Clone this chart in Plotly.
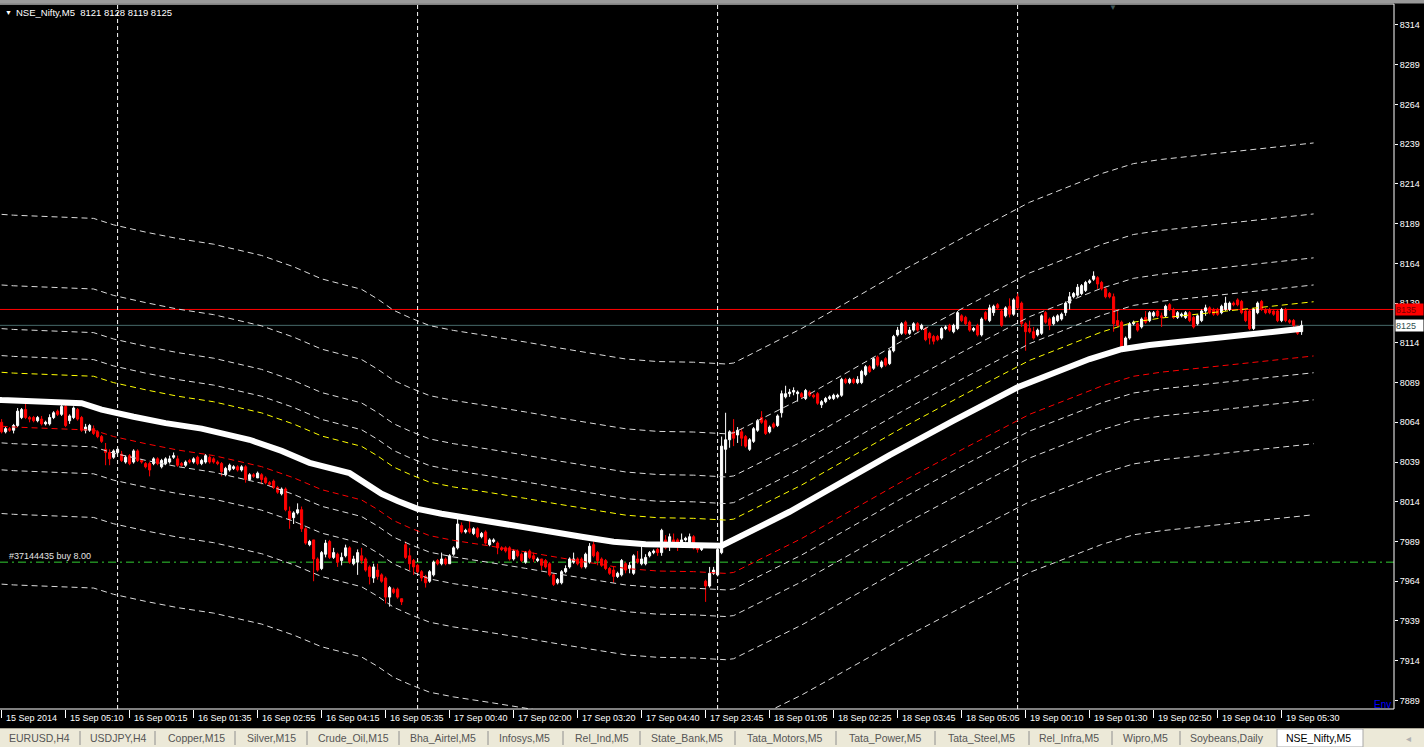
import plotly.graph_objects as go

# ---------------- data ----------------
bar_open = [
 8064,8058,8060,8059,8062,8067,8072,8067,8067,8065,8066,8063,8063,8067,8071,8069,8074,8065,8067,8072,
 8067,8059,8059,8060,8058,8055,8047,8045,8042,8045,8044,8039,8043,8039,8046,8040,8038,8038,8038,8041,
 8036,8038,8039,8042,8041,8038,8037,8040,8039,8042,8038,8039,8042,8041,8039,8038,8031,8034,8035,8036,
 8034,8036,8028,8031,8029,8031,8029,8026,8027,8023,8019,8022,8008,8004,8007,8009,7997,7987,7990,7978,
 7972,7981,7989,7979,7981,7977,7980,7985,7975,7976,7980,7978,7973,7966,7971,7968,7966,7954,7959,7959,
 7953,7987,7980,7977,7974,7970,7967,7964,7968,7977,7975,7978,7975,7981,7985,7999,7995,7997,7994,7997,
 7992,7995,7987,7989,7988,7985,7985,7985,7978,7983,7981,7976,7983,7980,7977,7978,7977,7975,7968,7963,
 7963,7970,7973,7976,7978,7978,7973,7976,7987,7982,7978,7977,7972,7971,7967,7968,7975,7972,7969,7978,
 7975,7975,7980,7982,7984,7982,7990,7987,7990,7990,7988,7990,7988,7992,7987,7984,7964,7961,7969,7968,
 7982,8047,8053,8058,8056,8058,8055,8047,8052,8059,8067,8065,8058,8063,8062,8070,8080,8082,8083,8082,
 8082,8079,8083,8081,8082,8075,8077,8079,8079,8080,8081,8091,8089,8091,8089,8089,8094,8099,8098,8105,
 8099,8104,8101,8109,8119,8120,8127,8120,8122,8126,8123,8123,8120,8118,8118,8117,8123,8125,8121,8123,
 8131,8130,8127,8122,8125,8119,8133,8128,8133,8138,8134,8131,8137,8132,8143,8139,8126,8123,8121,8119,
 8120,8133,8129,8126,8128,8129,8133,8139,8143,8144,8145,8147,8152,8154,8155,8152,8148,8145,8143,8128,
 8127,8111,8117,8126,8126,8124,8130,8128,8131,8134,8131,8131,8138,8135,8130,8131,8130,8133,8130,8126,
 8128,8134,8136,8135,8135,8133,8135,8135,8139,8141,8140,8134,8134,8123,8133,8140,8135,8135,8134,8134,
 8128,8135,8128,8128,8124,8121]
bar_high = [
 8066,8061,8061,8063,8073,8073,8077,8068,8068,8068,8068,8065,8069,8071,8072,8076,8076,8069,8074,8073,
 8068,8063,8063,8062,8059,8056,8051,8047,8047,8048,8046,8043,8044,8047,8047,8041,8039,8039,8042,8042,
 8041,8042,8043,8045,8043,8039,8040,8041,8042,8043,8041,8044,8043,8042,8040,8039,8036,8038,8037,8037,
 8037,8037,8032,8032,8033,8032,8030,8027,8028,8024,8023,8023,8011,8008,8013,8011,7998,7990,7990,7979,
 7983,7990,7990,7985,7982,7982,7987,7986,7980,7984,7985,7979,7974,7975,7975,7969,7967,7961,7960,7960,
 7953,7989,7985,7978,7975,7971,7968,7971,7977,7978,7982,7979,7981,7986,8005,8001,7997,8002,7998,7998,
 7995,7996,7991,7991,7989,7986,7986,7986,7984,7984,7982,7983,7984,7982,7979,7978,7978,7976,7969,7966,
 7971,7974,7979,7982,7979,7979,7982,7988,7989,7983,7979,7978,7973,7973,7970,7978,7976,7976,7981,7983,
 7986,7981,7983,7984,7985,7997,7993,7994,7994,7991,7994,7992,7994,7993,7988,7986,7965,7973,7973,7985,
 8055,8070,8059,8066,8061,8060,8056,8054,8061,8066,8071,8066,8062,8064,8069,8084,8087,8085,8086,8084,
 8083,8085,8084,8082,8083,8078,8080,8081,8082,8082,8092,8092,8092,8092,8093,8097,8100,8100,8105,8106,
 8103,8105,8110,8119,8124,8127,8128,8124,8127,8127,8126,8124,8121,8119,8119,8124,8125,8126,8126,8134,
 8132,8131,8128,8124,8126,8130,8134,8138,8138,8139,8135,8137,8142,8142,8145,8140,8127,8128,8124,8123,
 8132,8134,8130,8131,8132,8133,8140,8146,8146,8151,8151,8153,8154,8159,8156,8153,8149,8146,8145,8135,
 8128,8118,8127,8128,8127,8130,8134,8134,8134,8135,8133,8138,8139,8136,8134,8133,8134,8134,8131,8132,
 8135,8138,8137,8136,8136,8138,8143,8140,8140,8142,8141,8135,8135,8136,8140,8141,8136,8136,8135,8135,
 8136,8136,8129,8129,8125,8128]
bar_low = [
 8057,8057,8058,8057,8061,8066,8066,8064,8064,8064,8062,8062,8062,8066,8068,8068,8061,8063,8066,8065,
 8058,8057,8058,8056,8054,8051,8037,8037,8041,8044,8039,8038,8037,8038,8039,8038,8035,8030,8037,8037,
 8035,8037,8038,8041,8036,8036,8036,8038,8038,8037,8037,8038,8038,8038,8037,8030,8030,8033,8034,8033,
 8033,8026,8027,8029,8029,8025,8025,8024,8022,8019,8018,8008,7997,8000,8006,7995,7987,7986,7964,7970,
 7971,7979,7978,7978,7973,7974,7979,7975,7974,7968,7975,7970,7962,7963,7965,7963,7950,7948,7956,7953,
 7949,7978,7971,7968,7969,7964,7960,7963,7967,7974,7974,7974,7975,7980,7984,7994,7994,7994,7993,7991,
 7991,7987,7986,7988,7981,7983,7982,7977,7977,7979,7976,7975,7978,7976,7976,7971,7972,7967,7961,7962,
 7962,7969,7972,7975,7974,7972,7972,7975,7979,7974,7973,7971,7968,7963,7966,7967,7969,7969,7968,7975,
 7974,7974,7979,7981,7980,7980,7984,7983,7987,7983,7987,7989,7987,7984,7982,7983,7951,7960,7968,7967,
 7981,8032,8048,8049,8051,8049,8048,8046,8051,8058,8063,8056,8057,8060,8061,8067,8079,8080,8081,8077,
 8079,8078,8080,8079,8075,8073,8076,8078,8078,8079,8080,8088,8088,8088,8088,8088,8093,8095,8097,8099,
 8098,8099,8100,8108,8118,8119,8119,8119,8121,8121,8122,8115,8113,8113,8115,8116,8122,8121,8120,8122,
 8127,8125,8121,8121,8118,8118,8128,8127,8131,8135,8124,8130,8130,8131,8135,8124,8109,8120,8116,8118,
 8119,8126,8122,8125,8127,8128,8131,8135,8142,8143,8144,8146,8151,8153,8148,8147,8142,8142,8121,8124,
 8110,8110,8116,8125,8121,8123,8126,8127,8130,8130,8124,8130,8134,8129,8129,8130,8129,8127,8123,8125,
 8127,8131,8132,8131,8131,8132,8134,8134,8137,8137,8132,8127,8122,8122,8132,8134,8132,8132,8131,8127,
 8127,8127,8126,8124,8119,8119]
bar_close = [
 8058,8060,8059,8062,8071,8072,8067,8066,8065,8067,8063,8064,8067,8070,8069,8074,8062,8068,8073,8066,
 8059,8061,8062,8057,8055,8052,8045,8041,8046,8047,8040,8042,8038,8046,8040,8039,8036,8034,8041,8038,
 8040,8041,8041,8043,8037,8037,8039,8039,8041,8038,8040,8043,8039,8039,8038,8033,8035,8037,8036,8034,
 8036,8028,8031,8030,8032,8028,8026,8025,8023,8020,8022,8009,8003,8007,8009,7997,7988,7989,7978,7971,
 7982,7988,7979,7982,7976,7979,7985,7976,7978,7982,7977,7971,7967,7973,7967,7964,7954,7960,7957,7954,
 7951,7979,7975,7973,7970,7966,7963,7970,7976,7975,7978,7975,7980,7985,8000,7995,7996,7995,7997,7992,
 7994,7988,7990,7990,7985,7984,7983,7978,7983,7980,7977,7982,7979,7978,7978,7974,7973,7968,7962,7965,
 7970,7972,7978,7978,7975,7973,7981,7986,7980,7977,7974,7972,7969,7967,7969,7977,7971,7974,7980,7976,
 7978,7979,7982,7983,7982,7996,7985,7992,7988,7986,7990,7991,7992,7985,7984,7985,7961,7969,7971,7984,
 8049,8053,8058,8054,8059,8054,8049,8053,8060,8065,8064,8057,8061,8061,8068,8082,8082,8083,8084,8083,
 8080,8084,8081,8080,8076,8077,8079,8080,8081,8081,8091,8089,8091,8089,8091,8096,8099,8096,8104,8100,
 8102,8100,8109,8118,8122,8126,8120,8122,8126,8122,8125,8116,8117,8115,8116,8123,8124,8122,8125,8133,
 8128,8126,8122,8123,8119,8129,8129,8136,8137,8136,8125,8136,8132,8141,8136,8126,8121,8121,8117,8122,
 8131,8127,8125,8130,8131,8132,8139,8143,8145,8149,8150,8152,8153,8156,8151,8148,8143,8143,8126,8125,
 8111,8117,8126,8127,8122,8129,8127,8133,8133,8131,8130,8137,8135,8130,8133,8132,8133,8128,8124,8131,
 8134,8136,8133,8132,8132,8137,8139,8139,8138,8138,8133,8128,8123,8135,8139,8135,8133,8133,8132,8128,
 8135,8128,8127,8125,8120,8125]

time_labels = ["15 Sep 2014", "15 Sep 05:10", "16 Sep 00:15", "16 Sep 01:35", "16 Sep 02:55",
               "16 Sep 04:15", "16 Sep 05:35", "17 Sep 00:40", "17 Sep 02:00", "17 Sep 03:20",
               "17 Sep 04:40", "17 Sep 23:45", "18 Sep 01:05", "18 Sep 02:25", "18 Sep 03:45",
               "18 Sep 05:05", "19 Sep 00:10", "19 Sep 01:30", "19 Sep 02:50", "19 Sep 04:10",
               "19 Sep 05:30"]
label_every_bars = 16

ma_bar = [-3, 0, 20, 25, 33, 41, 50, 62, 70, 77, 87, 91, 95, 99, 104, 110, 119, 124, 128, 136,
          145, 153, 161, 170, 178, 180, 197, 222, 238, 254, 272, 280, 287, 300, 312, 325]
ma_value = [8078.5, 8078.0, 8076.0, 8072.0, 8067.5, 8063.5, 8060.0, 8053.0, 8046.0, 8038.5,
            8032.0, 8026.0, 8019.0, 8014.5, 8009.5, 8006.5, 8003.0, 8001.2, 7999.3, 7995.8,
            7992.0, 7988.8, 7987.2, 7986.8, 7985.7, 7986.3, 8007.7, 8043.4, 8065.0, 8086.0,
            8103.8, 8110.0, 8112.6, 8116.2, 8119.5, 8122.8]
env_deviation_pct = [0.21, 0.34, 0.55, 0.89, 1.44]
env_shift_bars = 3

ask_price = 8135
bid_price = 8125
order_price = 7976
order_text = "#37144435 buy 8.00"
symbol_title = "NSE_Nifty,M5"
last_ohlc = [8121, 8128, 8119, 8125]
period_separator_bars = [29, 104, 179, 254]
price_ticks = list(range(7889, 8315, 25))

tab_names = ["EURUSD,H4", "USDJPY,H4", "Copper,M15", "Silver,M15", "Crude_Oil,M15",
             "Bha_Airtel,M5", "Infosys,M5", "Rel_Ind,M5", "State_Bank,M5", "Tata_Motors,M5",
             "Tata_Power,M5", "Tata_Steel,M5", "Rel_Infra,M5", "Wipro,M5", "Soybeans,Daily",
             "NSE_Nifty,M5"]
active_tab = "NSE_Nifty,M5"

# ---------------- layout geometry (pixels) ----------------
W, H = 1424, 747
PLOT_R, PLOT_T, PLOT_B = 1394, 4, 709
tab_center_px = [39, 118, 196, 271.5, 353, 443, 524, 602, 687, 784.5, 885.5, 981.5,
                 1069, 1145.5, 1227, 1318.5]
tab_sep_px = [80, 155, 235, 307, 399, 488, 563, 640, 735, 836, 935, 1029, 1112, 1180]

def px_x(p):
    return p / PLOT_R

def px_y(p):
    return (PLOT_B - p) / (PLOT_B - PLOT_T)

FONT = "Liberation Sans, Arial, sans-serif"
BAND_COL = "#DCDCDC"

fig = go.Figure()

# envelope bands
for k, d in enumerate(env_deviation_pct):
    bx = [b + env_shift_bars for b in ma_bar]
    up = [v * (1 + d / 100.0) for v in ma_value]
    dn = [v * (1 - d / 100.0) for v in ma_value]
    cu = "#FFFF00" if k == 0 else BAND_COL
    cd = "#FF0000" if k == 0 else BAND_COL
    fig.add_trace(go.Scatter(x=bx, y=up, mode="lines",
                             line=dict(color=cu, width=1, dash="6px,4px"),
                             hoverinfo="skip", showlegend=False))
    fig.add_trace(go.Scatter(x=bx, y=dn, mode="lines",
                             line=dict(color=cd, width=1, dash="6px,4px"),
                             hoverinfo="skip", showlegend=False))

# moving average (thick white)
fig.add_trace(go.Scatter(x=ma_bar, y=ma_value, mode="lines",
                         line=dict(color="#FFFFFF", width=6),
                         hoverinfo="skip", showlegend=False))

# candles
n = len(bar_open)
fig.add_trace(go.Candlestick(
    x=list(range(n)), open=bar_open, high=bar_high, low=bar_low, close=bar_close,
    increasing=dict(line=dict(color="#FFFFFF", width=1), fillcolor="#FFFFFF"),
    decreasing=dict(line=dict(color="#FF0000", width=1), fillcolor="#FF0000"),
    whiskerwidth=0, hoverinfo="skip", showlegend=False))

shapes = []
# horizontal price lines
shapes.append(dict(type="line", xref="paper", x0=0, x1=1, yref="y", y0=bid_price, y1=bid_price,
                   line=dict(color="#466A6A", width=1), layer="below"))
shapes.append(dict(type="line", xref="paper", x0=0, x1=1, yref="y", y0=ask_price, y1=ask_price,
                   line=dict(color="#FF0000", width=1), layer="below"))
shapes.append(dict(type="line", xref="paper", x0=0, x1=1, yref="y", y0=order_price, y1=order_price,
                   line=dict(color="#32CD32", width=1, dash="8px,4px,2px,4px"), layer="below"))
# period separators
for b in period_separator_bars:
    shapes.append(dict(type="line", xref="x", x0=b, x1=b, yref="paper", y0=0, y1=1,
                       line=dict(color="#FFFFFF", width=1, dash="4px,3px"), layer="below"))
# frame
shapes.append(dict(type="line", xref="paper", x0=0, x1=1, yref="paper", y0=1, y1=1,
                   line=dict(color="#FFFFFF", width=1)))
shapes.append(dict(type="line", xref="paper", x0=1, x1=1, yref="paper", y0=0, y1=1,
                   line=dict(color="#FFFFFF", width=1)))
shapes.append(dict(type="line", xref="paper", x0=0, x1=1, yref="paper", y0=0, y1=0,
                   line=dict(color="#FFFFFF", width=1)))
# top window strip
shapes.append(dict(type="rect", xref="paper", x0=0, x1=px_x(W), yref="paper",
                   y0=px_y(3.4), y1=px_y(0), fillcolor="#9A9A9A", line=dict(width=0)))
# tab bar
shapes.append(dict(type="rect", xref="paper", x0=0, x1=px_x(W), yref="paper",
                   y0=px_y(H), y1=px_y(728), fillcolor="#ECE9D8", line=dict(width=0)))
shapes.append(dict(type="line", xref="paper", x0=0, x1=px_x(W), yref="paper",
                   y0=px_y(728.5), y1=px_y(728.5), line=dict(color="#ACA899", width=1)))
shapes.append(dict(type="rect", xref="paper", x0=px_x(1277), x1=px_x(1363), yref="paper",
                   y0=px_y(H), y1=px_y(729), fillcolor="#FFFFFF",
                   line=dict(color="#A8A8A8", width=1)))
for s in tab_sep_px:
    shapes.append(dict(type="line", xref="paper", x0=px_x(s), x1=px_x(s), yref="paper",
                       y0=px_y(745), y1=px_y(731), line=dict(color="#8E8E8E", width=1)))

annotations = []
# x-axis time labels (left aligned after the tick like MT4)
for k, lab in enumerate(time_labels):
    annotations.append(dict(x=k * label_every_bars, xref="x", y=px_y(717.5), yref="paper",
                            text=lab, showarrow=False, xanchor="left", yanchor="middle",
                            xshift=2, font=dict(family=FONT, size=9, color="#FFFFFF")))
# title
annotations.append(dict(x=px_x(3), y=px_y(12), xref="paper", yref="paper", text="▼",
                        showarrow=False, xanchor="left", yanchor="middle",
                        font=dict(family=FONT, size=7, color="#FFFFFF")))
annotations.append(dict(x=px_x(14), y=px_y(12.5), xref="paper", yref="paper",
                        text=symbol_title + "\u00a0\u00a0" + " ".join(str(v) for v in last_ohlc),
                        showarrow=False, xanchor="left", yanchor="middle",
                        font=dict(family=FONT, size=9.5, color="#FFFFFF")))
# order label
annotations.append(dict(x=px_x(7), y=px_y(555.5), xref="paper", yref="paper", text=order_text,
                        showarrow=False, xanchor="left", yanchor="middle",
                        font=dict(family=FONT, size=9, color="#E4E4E4")))
# price boxes on axis
annotations.append(dict(x=px_x(1395.5), y=ask_price, xref="paper", yref="y", text=str(ask_price),
                        showarrow=False, xanchor="left", yanchor="middle", bgcolor="#FF0000",
                        width=27, height=11, borderpad=0, align="left",
                        font=dict(family=FONT, size=9, color="#7A0000")))
annotations.append(dict(x=px_x(1395.5), y=bid_price, xref="paper", yref="y", text=str(bid_price),
                        showarrow=False, xanchor="left", yanchor="middle", bgcolor="#FFFFFF",
                        width=27, height=11, borderpad=0, align="left",
                        font=dict(family=FONT, size=9, color="#2F4F4F")))
# chart shift marker
annotations.append(dict(x=px_x(1113), y=px_y(7), xref="paper", yref="paper", text="▼",
                        showarrow=False, xanchor="center", yanchor="middle",
                        font=dict(family=FONT, size=8, color="#3E5658")))
# indicator short name
annotations.append(dict(x=px_x(1393), y=px_y(704), xref="paper", yref="paper", text="Env",
                        showarrow=False, xanchor="right", yanchor="middle",
                        font=dict(family=FONT, size=10, color="#0000FF")))
# tabs
for name, cx in zip(tab_names, tab_center_px):
    annotations.append(dict(x=px_x(cx), y=px_y(738.5), xref="paper", yref="paper", text=name,
                            showarrow=False, xanchor="center", yanchor="middle",
                            font=dict(family=FONT, size=10.5,
                                      color="#000000" if name == active_tab else "#555555")))
annotations.append(dict(x=px_x(1408), y=px_y(738.5), xref="paper", yref="paper", text="◂",
                        showarrow=False, xanchor="center", yanchor="middle",
                        font=dict(family=FONT, size=10, color="#B0B0B0")))

fig.update_layout(
    width=W, height=H,
    margin=dict(l=0, r=W - PLOT_R, t=PLOT_T, b=H - PLOT_B),
    paper_bgcolor="#000000", plot_bgcolor="#000000",
    showlegend=False, hovermode=False,
    boxgap=0.25,
    shapes=shapes, annotations=annotations,
    xaxis=dict(range=[-0.4, 348.1], showgrid=False, zeroline=False, showline=False,
               tickvals=[k * label_every_bars for k in range(len(time_labels))],
               showticklabels=False, ticks="outside", ticklen=8, tickcolor="#FFFFFF",
               rangeslider=dict(visible=False), automargin=False, fixedrange=True),
    yaxis=dict(range=[7883.6, 8327.2], side="right", showgrid=False, zeroline=False,
               showline=False, tickvals=price_ticks, ticktext=[str(v) for v in price_ticks],
               ticks="outside", ticklen=3, tickcolor="#FFFFFF",
               tickfont=dict(family=FONT, size=9, color="#FFFFFF"), automargin=False,
               fixedrange=True),
)

page_reset = ("document.documentElement.style.margin='0';document.body.style.margin='0';"
              "document.body.style.padding='0';document.documentElement.style.overflow='hidden';"
              "document.body.style.background='#000';")
fig.write_html("out.html", config={"displayModeBar": False}, post_script=page_reset)
